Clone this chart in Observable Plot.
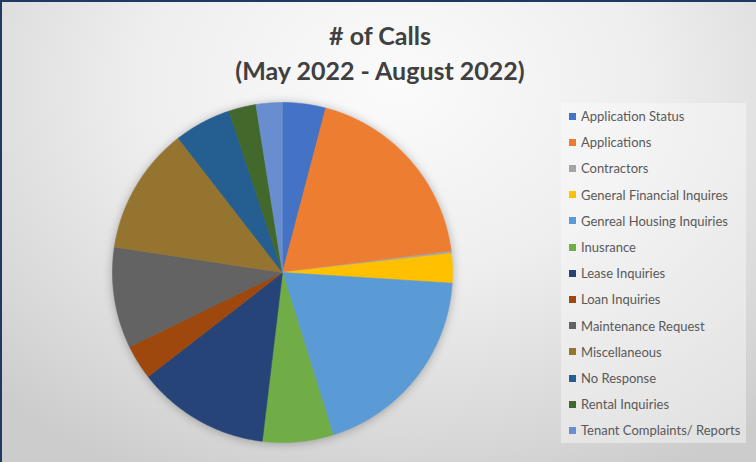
<!DOCTYPE html>
<html>
<head>
<meta charset="utf-8">
<script src="https://cdn.jsdelivr.net/npm/d3@7"></script>
<script src="https://cdn.jsdelivr.net/npm/@observablehq/plot@0.6"></script>
<style>
  html, body { margin: 0; padding: 0; }
  #frame {
    position: relative; width: 756px; height: 462px; box-sizing: border-box; overflow: hidden;
    border-left: 2px solid #1f3864; border-top: 2px solid #1f3864;
    background: radial-gradient(ellipse 75% 95% at 52% 18%, #fbfbfb 0%, #eeeeee 45%, #d6d6d6 85%, #cccccc 100%);
    font-family: Lato, "Open Sans", sans-serif;
  }
  .title { position: absolute; left: 0; width: 756px; text-align: center; font-weight: bold; color: #404040; font-size: 25px; }
  #pie { position: absolute; left: 97px; top: 87px; filter: drop-shadow(0 1px 5px rgba(0,0,0,0.28)); }
  #legend { position: absolute; left: 559px; top: 101px; width: 185px; height: 340px; background: rgba(250,250,250,0.45); }
  .item { position: absolute; left: 8px; height: 16px; display: flex; align-items: center; font-size: 13px; color: #595959; white-space: nowrap; }
  .sw { width: 7px; height: 7px; margin-right: 5px; }
</style>
</head>
<body>
<div id="frame">
  <div class="title" id="t1" style="top:18px"></div>
  <div class="title" id="t2" style="top:53px"></div>
  <div id="pie"></div>
  <div id="legend"></div>
</div>
<script>
const titleLines = ["# of Calls", "(May 2022 - August 2022)"];
const categories = [
  "Application Status", "Applications", "Contractors", "General Financial Inquires",
  "Genreal Housing Inquiries", "Inusrance", "Lease Inquiries", "Loan Inquiries",
  "Maintenance Request", "Miscellaneous", "No Response", "Rental Inquiries",
  "Tenant Complaints/ Reports"
];
const calls = [41, 189, 2, 28, 192, 67, 126, 33, 96, 121, 54, 26, 25];
const colors = [
  "#4472C4", "#ED7D31", "#A5A5A5", "#FFC000", "#5B9BD5", "#70AD47", "#264478",
  "#9E480E", "#636363", "#957430", "#255E91", "#43682B", "#698ED0"
];

document.getElementById("t1").textContent = titleLines[0];
document.getElementById("t2").textContent = titleLines[1];

// Build slice outlines (unit circle, clockwise from 12 o'clock) from the values
const total = d3.sum(calls);
const pts = [];
let start = 0;
categories.forEach((name, i) => {
  const a0 = start, a1 = start + calls[i] / total * 2 * Math.PI;
  start = a1;
  const n = Math.max(2, Math.ceil((a1 - a0) / (Math.PI / 360)));
  pts.push({name, x: 0, y: 0});
  for (let k = 0; k <= n; k++) {
    const a = a0 + (a1 - a0) * k / n;
    pts.push({name, x: Math.sin(a), y: Math.cos(a)});
  }
  pts.push({name, x: 0, y: 0});
});

const size = 366, R = (size / 2) / 170;
const chart = Plot.plot({
  width: size, height: size, margin: 0,
  x: {domain: [-R, R], axis: null},
  y: {domain: [-R, R], axis: null},
  color: {domain: categories, range: colors},
  style: {background: "transparent", overflow: "visible"},
  marks: [
    Plot.line(pts, {x: "x", y: "y", z: "name", fill: "name", stroke: "name", strokeWidth: 0.6, curve: "linear"})
  ]
});
document.getElementById("pie").appendChild(chart);

const legend = d3.select("#legend");
categories.forEach((name, i) => {
  const it = legend.append("div").attr("class", "item").style("top", (5 + i * 26.2) + "px");
  it.append("div").attr("class", "sw").style("background", colors[i]);
  it.append("span").text(name);
});
</script>
</body>
</html>
